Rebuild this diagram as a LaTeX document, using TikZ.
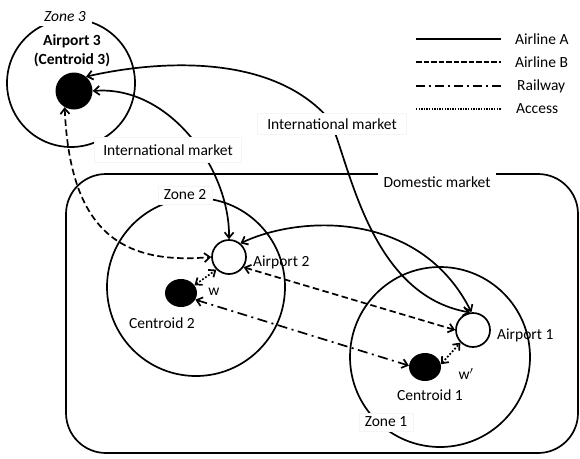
\documentclass[tikz,border=0pt]{standalone}
\usepackage{fontspec}
\setmainfont{Carlito}
\usetikzlibrary{arrows.meta,shapes.geometric}
\begin{document}
\begin{tikzpicture}[x=1pt,y=-1pt,
  font=\fontsize{15.5}{18}\selectfont,
  ln/.style={line width=1.7pt},
  both/.style={ln,{Straight Barb[length=5.5pt,width=9pt]}-{Straight Barb[length=5.5pt,width=9pt]}},
  airA/.style={both},
  airB/.style={both,dash pattern=on 6.5pt off 3.5pt},
  rail/.style={both,dash pattern=on 10pt off 4.5pt on 2pt off 4.5pt},
  acc/.style={both,dash pattern=on 1.8pt off 1.8pt},
  legA/.style={line width=1.9pt},
  legB/.style={line width=1.9pt,dash pattern=on 5.5pt off 2pt},
  legR/.style={line width=1.9pt,dash pattern=on 9pt off 4pt on 2pt off 4pt},
  legC/.style={line width=1.3pt,dash pattern=on 1.3pt off 1.3pt},
  zone/.style={draw,ln,circle,inner sep=0pt},
  airport/.style={draw,ln,circle,fill=white,minimum size=34pt,inner sep=0pt},
  centroid/.style={ellipse,fill=black,minimum width=32pt,minimum height=28pt,inner sep=0pt},
  tag/.style={fill=white,draw=black!4,inner xsep=6pt,inner ysep=4pt},
  plain/.style={inner sep=1pt}]
\useasboundingbox (0,0) rectangle (580,458);

% domestic market boundary
\draw[ln,rounded corners=40pt] (66,174) rectangle (578,453);

% zones
\node[zone,minimum size=128pt] (z3) at (71,83) {};
\node[zone,minimum size=178pt] (z2) at (196,287) {};
\node[zone,minimum size=180pt] (z1) at (440,357) {};

% airports and centroids
\node[circle,fill=black,minimum size=37pt,inner sep=0pt] (a3) at (74,91) {};
\node[airport] (ap2) at (229,257) {};
\node[airport] (ap1) at (473,330) {};
\node[centroid] (c2) at (181,293) {};
\node[centroid] (c1) at (425,367) {};

% international links (airline A)
\draw[airA] (a3.50) .. controls (150,62) and (270,50) .. (330,120)
                    .. controls (350,165) and (370,295) .. (ap1.100);
\draw[airA] (a3.0) .. controls (170,85) and (230,170) .. (ap2.90);
% domestic link (airline A)
\draw[airA] (ap2.50) .. controls (300,215) and (420,210) .. (ap1.95);

% airline B
\draw[airB] (a3.240) .. controls (70,230) and (120,265) .. (ap2.180);
\draw[airB] (ap2.325) -- (ap1.180);

% railway
\draw[rail] (c2.335) -- (c1.175);

% access
\draw[acc] (c2.30) -- (ap2.225);
\draw[acc] (c1.10) -- (ap1.225);

% labels
\node[fill=white,inner xsep=6pt,inner ysep=4pt,font=\fontsize{15.5}{18}\selectfont\itshape] (z3lab) at (65,17) {Zone 3};
\node[tag] (z2lab) at (185,195) {Zone 2};
\node[tag] (z1lab) at (386,422) {Zone 1};
\node[tag,minimum width=147pt,minimum height=25pt] (im1) at (168,150) {International market};
\node[tag,minimum width=149pt,minimum height=21pt] (im2) at (332,124) {International market};
\node[fill=white,inner xsep=6pt,inner ysep=5pt] (dom) at (437,182) {Domestic market};
\node[plain,align=center,font=\fontsize{15.5}{19}\selectfont\bfseries] (a3lab) at (72,51) {Airport 3\\(Centroid 3)};
\node[plain,anchor=west] (ap2lab) at (252,262) {Airport 2};
\node[plain,anchor=west] (ap1lab) at (496,335) {Airport 1};
\node[plain] (c2lab) at (162,323) {Centroid 2};
\node[plain] (c1lab) at (430,395) {Centroid 1};
\node[plain] (wlab) at (214,292) {w};
\node[plain] (w2lab) at (466,374) {w$'$};

% legend
\coordinate (lAs) at (416,39);  \coordinate (lAe) at (501,39);
\coordinate (lBs) at (416,62);  \coordinate (lBe) at (501,62);
\coordinate (lRs) at (416,86);  \coordinate (lRe) at (501,86);
\coordinate (lCs) at (416,109); \coordinate (lCe) at (501,109);
\draw[legA] (lAs) -- (lAe);
\draw[legB] (lBs) -- (lBe);
\draw[legR] (lRs) -- (lRe);
\draw[legC] (lCs) -- (lCe);
\node[plain,anchor=west] (lA) at (514,39) {Airline A};
\node[plain,anchor=west] (lB) at (514,62) {Airline B};
\node[plain,anchor=west] (lR) at (516,86) {Railway};
\node[plain,anchor=west] (lC) at (515,109) {Access};
\end{tikzpicture}
\end{document}
